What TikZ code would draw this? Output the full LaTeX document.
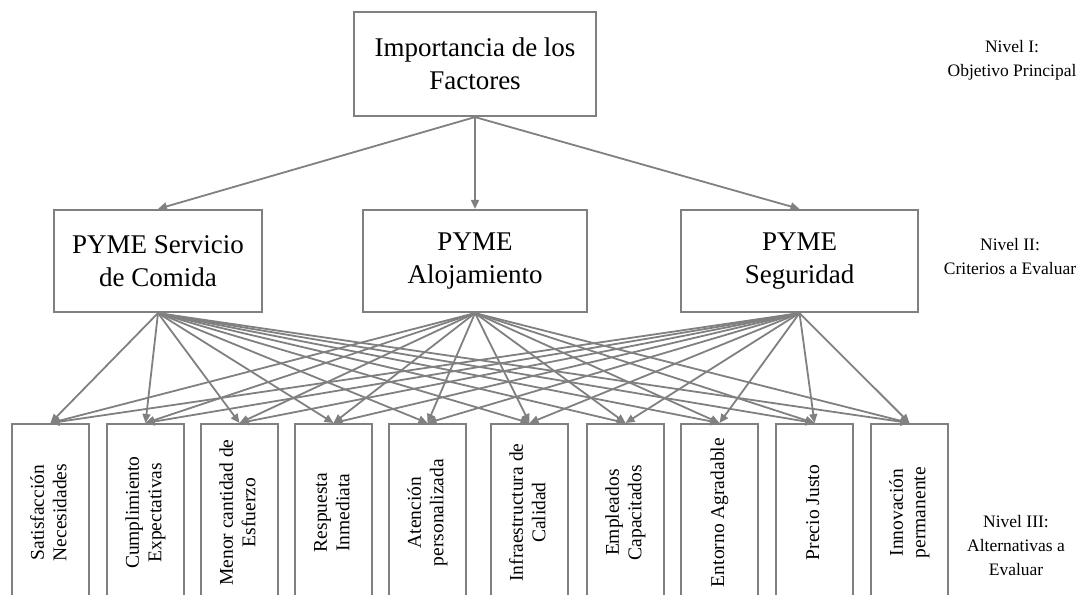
\documentclass[tikz,border=0pt]{standalone}
\usepackage{fontspec}
\setmainfont{Liberation Serif}
\usetikzlibrary{arrows.meta}
\definecolor{ln}{RGB}{128,128,128}
\newcommand{\vt}[1]{\rotatebox{90}{\begin{tabular}{@{}c@{}}#1\end{tabular}}}
\begin{document}
\begin{tikzpicture}[x=1pt,y=-1pt,
  box/.style={draw=ln,line width=2.2pt,fill=white,inner sep=0pt,align=center,text=black},
  goal/.style={box,minimum width=242pt,minimum height=104pt,font=\fontsize{27}{33}\selectfont},
  crit/.style={box,minimum height=102pt,font=\fontsize{27}{33}\selectfont},
  alt/.style={box,minimum width=77pt,minimum height=177pt,anchor=north,font=\fontsize{19.5}{22.5}\selectfont},
  lvl/.style={align=center,font=\fontsize{17.5}{24}\selectfont},
  arr/.style={draw=ln,line width=1.8pt,-{Triangle[length=9pt,width=8pt]}}]
\useasboundingbox (0,0) rectangle (1078,594);
\clip (0,0) rectangle (1078,594);

\node[goal] (g) at (475,64) {Importancia de los\\Factores};

\node[crit,minimum width=208pt] (c1) at (158,261) {PYME Servicio\\de Comida};
\node[crit,minimum width=224pt] (c2) at (475,261) {PYME\\Alojamiento};
\node[crit,minimum width=237pt] (c3) at (799.5,261) {PYME\\Seguridad};

\node[alt] (a1) at (50.5,423) {\vt{Satisfacción\\Necesidades}};
\node[alt] (a2) at (145.5,423) {\vt{Cumplimiento\\Expectativas}};
\node[alt] (a3) at (239.5,423) {\vt{Menor cantidad de\\Esfuerzo}};
\node[alt] (a4) at (333.5,423) {\vt{Respuesta\\Inmediata}};
\node[alt] (a5) at (427.5,423) {\vt{Atención\\personalizada}};
\node[alt] (a6) at (529.5,423) {\vt{Infraestructura de\\Calidad}};
\node[alt] (a7) at (625.5,423) {\vt{Empleados\\Capacitados}};
\node[alt] (a8) at (719.5,423) {\vt{Entorno Agradable}};
\node[alt] (a9) at (814.5,423) {\vt{Precio Justo}};
\node[alt] (a10) at (909.5,423) {\vt{Innovación\\permanente}};

\node[lvl] (n1) at (1012,60) {Nivel I:\\Objetivo Principal};
\node[lvl] (n2) at (1010,257) {Nivel II:\\Criterios a Evaluar};
\node[lvl] (n3) at (1016,546) {Nivel III:\\Alternativas a\\Evaluar};

\foreach \c in {c1,c2,c3} \draw[arr] (g.south) -- (\c.north);
\foreach \c in {c1,c2,c3}
  \foreach \a in {a1,a2,a3,a4,a5,a6,a7,a8,a9,a10}
    \draw[arr] (\c.south) -- (\a.north);
\end{tikzpicture}
\end{document}
